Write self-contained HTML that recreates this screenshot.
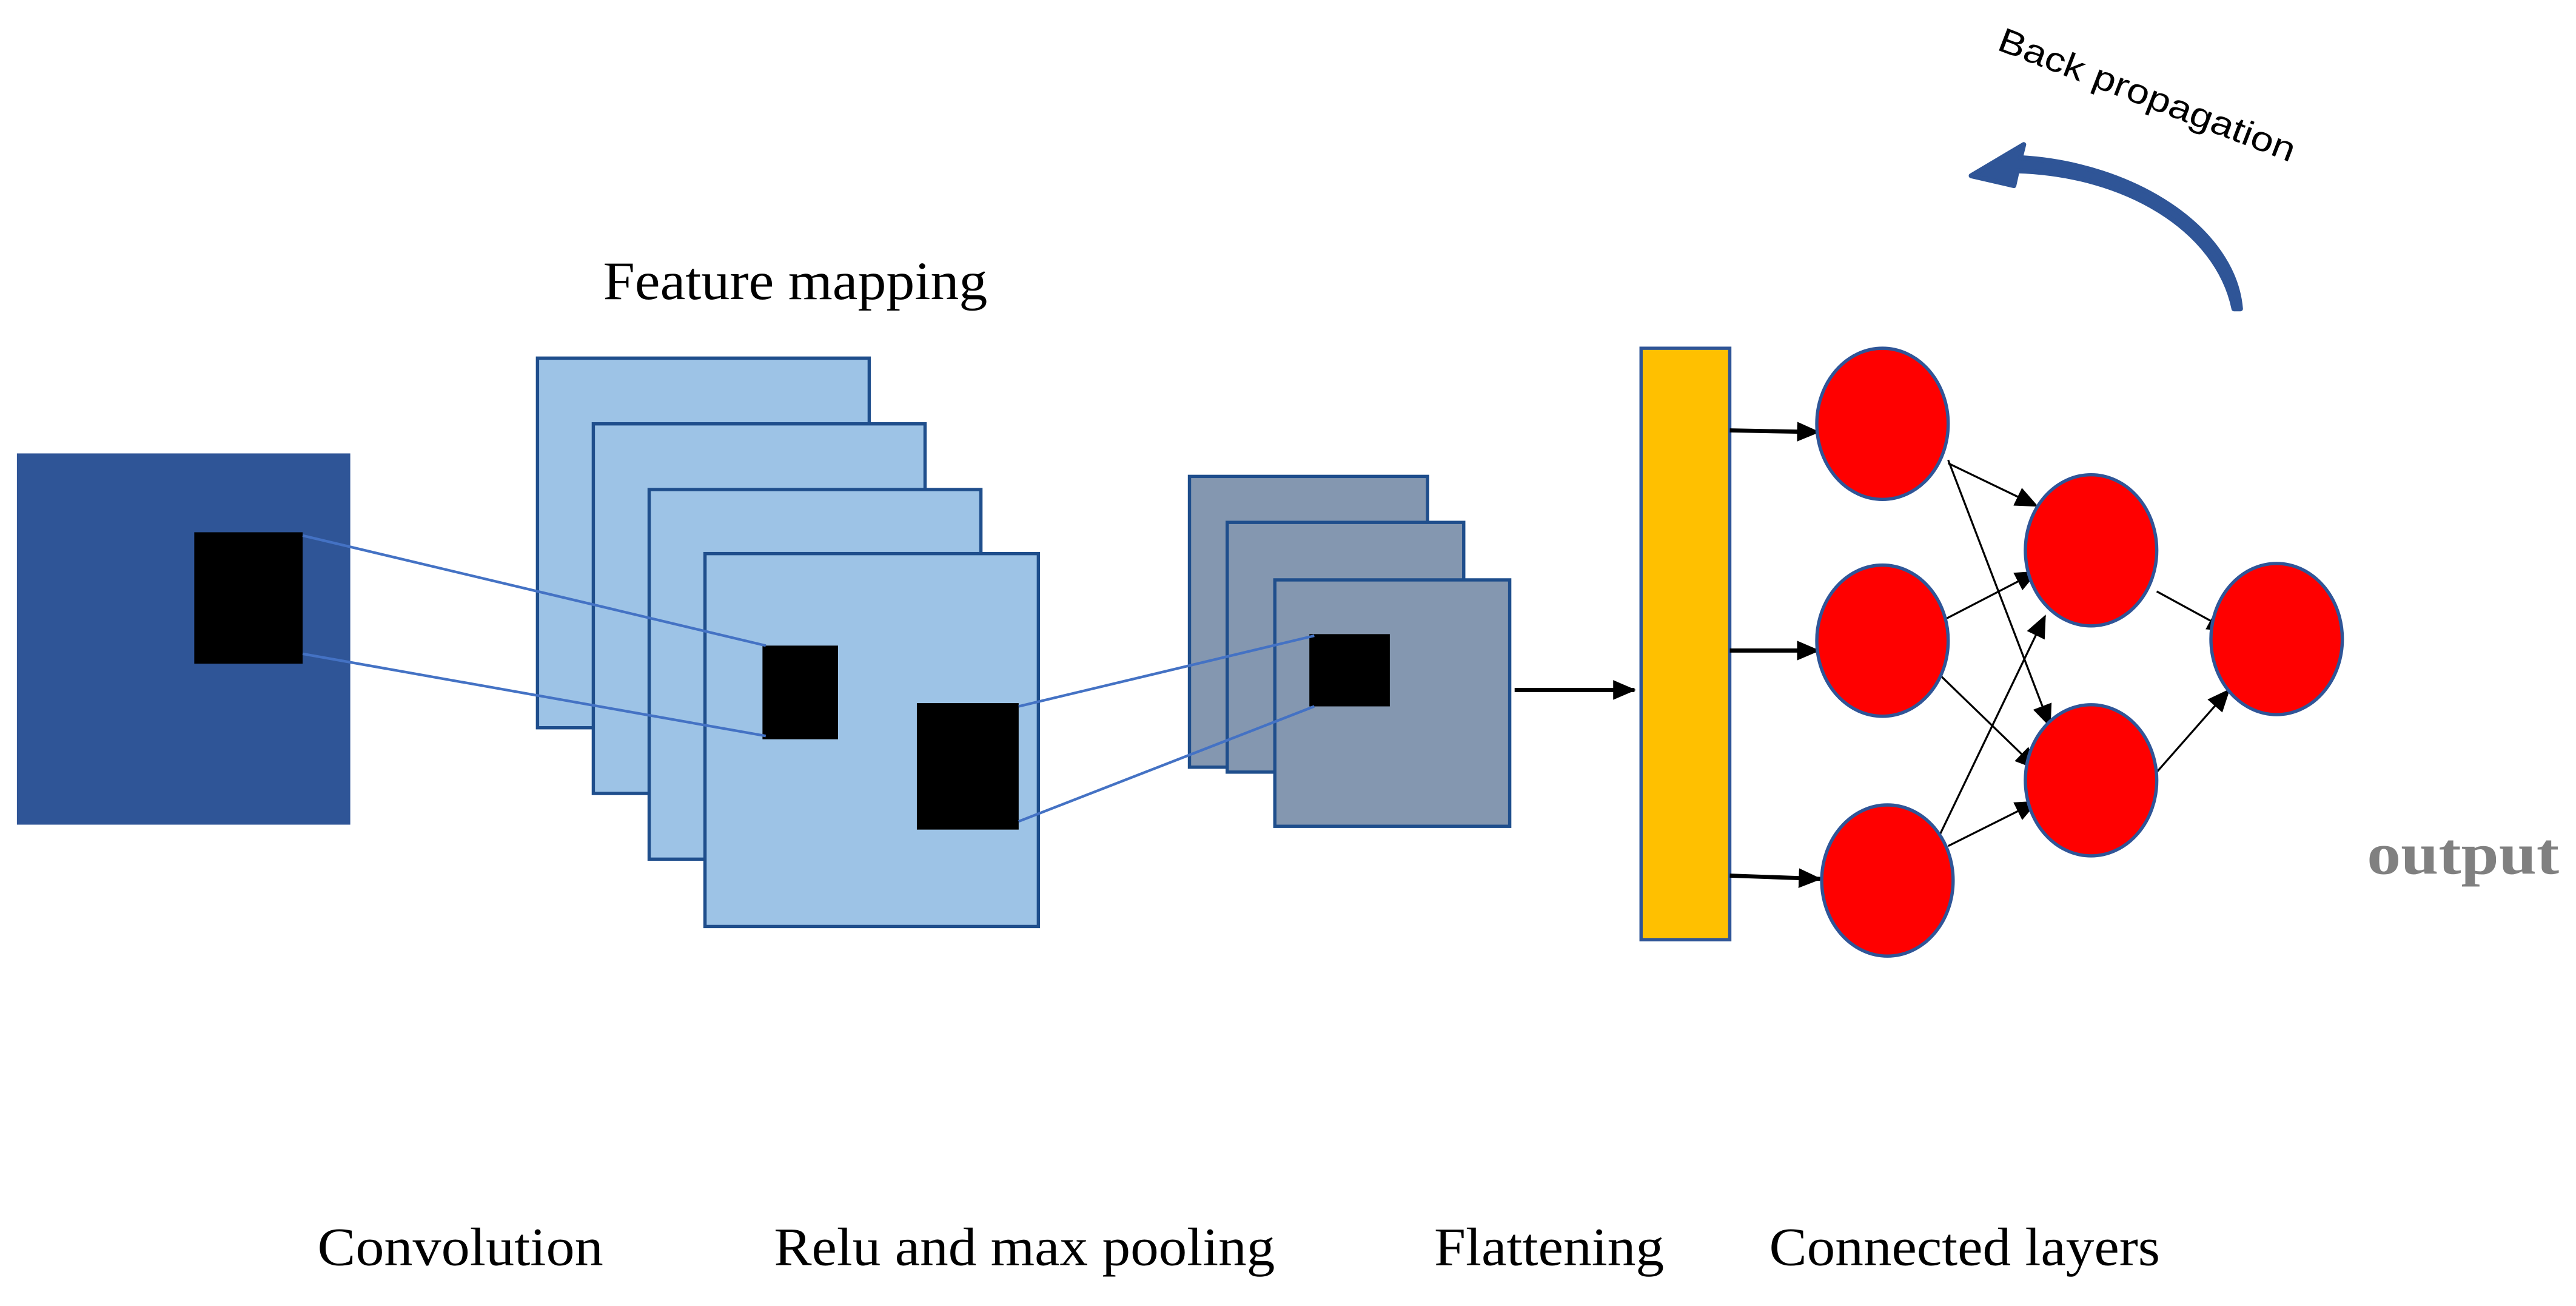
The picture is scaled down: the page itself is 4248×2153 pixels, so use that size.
<!DOCTYPE html>
<html><head><meta charset="utf-8"><style>html,body{margin:0;padding:0;background:#fff}svg{display:block}</style></head>
<body>
<svg width="4248" height="2153" viewBox="0 0 1568 795" xmlns="http://www.w3.org/2000/svg">
<defs>
<marker id="ah2" markerWidth="14" markerHeight="12" refX="13" refY="6" orient="auto" markerUnits="userSpaceOnUse" viewBox="0 0 14 12">
<path d="M0,0 L14,6 L0,12 z" fill="#000"/></marker>
</defs>
<rect width="1568" height="795" fill="#fff"/>
<rect x="10" y="276" width="203" height="226" fill="#2F5597"/>
<rect x="118" y="324" width="66" height="80" fill="#000"/>
<g fill="#9DC3E6" stroke="#1F4E8C" stroke-width="2">
<rect x="327" y="218" width="202" height="225"/>
<rect x="361" y="258" width="202" height="225"/>
<rect x="395" y="298" width="202" height="225"/>
<rect x="429" y="337" width="203" height="227"/>
</g>
<rect x="464" y="393" width="46" height="57" fill="#000"/>
<rect x="558" y="428" width="62" height="77" fill="#000"/>
<g fill="#8497B0" stroke="#1F4E8C" stroke-width="2">
<rect x="724" y="290" width="145" height="177"/>
<rect x="747" y="318" width="144" height="152"/>
<rect x="776" y="353" width="143" height="150"/>
</g>
<rect x="797" y="386" width="49" height="44" fill="#000"/>
<g stroke="#4472C4" stroke-width="1.6">
<line x1="184" y1="326" x2="466" y2="393"/>
<line x1="184" y1="398" x2="466" y2="448"/>
<line x1="620" y1="430" x2="800" y2="387"/>
<line x1="620" y1="500" x2="800" y2="430"/>
</g>
<line x1="922" y1="420" x2="995" y2="420" stroke="#000" stroke-width="2.5" marker-end="url(#ah2)"/>
<rect x="999" y="212" width="54" height="360" fill="#FFC000" stroke="#2F5597" stroke-width="2"/>
<g stroke="#000" stroke-width="2.5" marker-end="url(#ah2)">
<line x1="1053" y1="262" x2="1107" y2="263"/>
<line x1="1053" y1="396" x2="1107" y2="396"/>
<line x1="1053" y1="533" x2="1108" y2="535"/>
</g>
<g stroke="#000" stroke-width="1.2" marker-end="url(#ah2)">
<line x1="1186" y1="282" x2="1240" y2="308"/>
<line x1="1186" y1="280" x2="1248" y2="442"/>
<line x1="1184" y1="377" x2="1240" y2="348"/>
<line x1="1180" y1="410" x2="1240" y2="468"/>
<line x1="1180" y1="510" x2="1245" y2="375"/>
<line x1="1186" y1="515" x2="1240" y2="488"/>
<line x1="1313" y1="360" x2="1357" y2="384"/>
<line x1="1313" y1="470" x2="1357" y2="420"/>
</g>
<g fill="#FF0000" stroke="#2F5597" stroke-width="2">
<ellipse cx="1146" cy="258" rx="40" ry="46"/>
<ellipse cx="1146" cy="390" rx="40" ry="46"/>
<ellipse cx="1149" cy="536" rx="40" ry="46"/>
<ellipse cx="1273" cy="335" rx="40" ry="46"/>
<ellipse cx="1273" cy="475" rx="40" ry="46"/>
<ellipse cx="1386" cy="389" rx="40" ry="46"/>
</g>
<path d="M1364,188 C1360,140 1300,100 1230,96 L1232,88 L1200,107 L1226,113 L1228,104 C1295,106 1350,140 1360,188 z" fill="#2F5597" stroke="#2F5597" stroke-width="3" stroke-linejoin="round"/>
<text x="1215" y="30" font-family="Liberation Sans, sans-serif" font-size="21" fill="#000" transform="rotate(21 1215 30)" textLength="192" lengthAdjust="spacingAndGlyphs">Back propagation</text>
<g font-family="Liberation Serif, serif" font-size="33" fill="#000">
<text x="367" y="182" textLength="234" lengthAdjust="spacingAndGlyphs">Feature mapping</text>
<text x="193" y="770" textLength="174" lengthAdjust="spacingAndGlyphs">Convolution</text>
<text x="471" y="770" textLength="305" lengthAdjust="spacingAndGlyphs">Relu and max pooling</text>
<text x="873" y="770" textLength="140" lengthAdjust="spacingAndGlyphs">Flattening</text>
<text x="1077" y="770" textLength="238" lengthAdjust="spacingAndGlyphs">Connected layers</text>
</g>
<text x="1441" y="532" font-family="Liberation Serif, serif" font-weight="bold" font-size="36" fill="#808080" textLength="117" lengthAdjust="spacingAndGlyphs">output</text>
</svg>
</body></html>
